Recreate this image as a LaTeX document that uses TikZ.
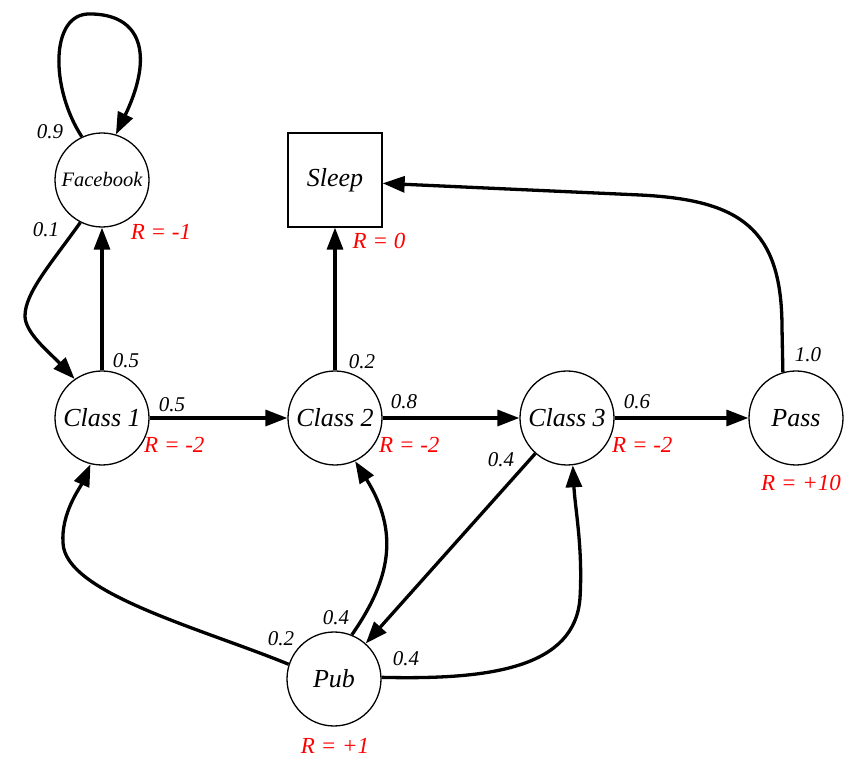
\documentclass[tikz,border=0pt]{standalone}
\usepackage{fontspec}
\setmainfont{Liberation Serif}
\usetikzlibrary{arrows.meta}
\begin{document}
\begin{tikzpicture}[x=1pt,y=1pt,
  state/.style={circle,draw,line width=1.3pt,minimum size=94pt,inner sep=0pt,font=\fontsize{26}{30}\selectfont\itshape},
  termstate/.style={rectangle,draw,line width=1.3pt,minimum size=94pt,inner sep=0pt,font=\fontsize{26}{30}\selectfont\itshape},
  edge/.style={line width=3.3pt,-{Triangle[length=22pt,width=16pt]}},
  prob/.style={font=\fontsize{21}{24}\selectfont\itshape,inner sep=0pt},
  rew/.style={text=red,font=\fontsize{23}{26}\selectfont\itshape,inner sep=0pt}]
\useasboundingbox (0,0) rectangle (856,768);
% states
\node[state,font=\fontsize{20.5}{24}\selectfont\itshape] (fb) at (102,588) {Facebook};
\node[termstate] (sleep) at (335,588) {Sleep};
\node[state] (c1) at (102,350) {Class 1};
\node[state] (c2) at (335,350) {Class 2};
\node[state] (c3) at (567,350) {Class 3};
\node[state] (pass) at (796,350) {Pass};
\node[state] (pub) at (334,89) {Pub};
% rewards
\node[rew] (rfb) at (161,536) {R = -1};
\node[rew] (rsleep) at (379,527) {R = 0};
\node[rew,anchor=west] (rc1) at (144,323) {R = -2};
\node[rew,anchor=west] (rc2) at (379,323) {R = -2};
\node[rew,anchor=west] (rc3) at (612,323) {R = -2};
\node[rew] (rpass) at (801,285) {R = +10};
\node[rew] (rpub) at (335,22) {R = +1};
% edges
\draw[edge] (fb.115) .. controls (50,680) and (50,755) .. (90,754)
  .. controls (140,754) and (155,715) .. (fb.73);
\draw[edge] (fb.243) .. controls (50,503) and (25,475) .. (25,452)
  .. controls (25,435) and (50,415) .. (c1.125);
\draw[edge] (c1) -- (fb);
\draw[edge] (c1) -- (c2);
\draw[edge] (c2) -- (sleep);
\draw[edge] (c2) -- (c3);
\draw[edge] (c3) -- (pass);
\draw[edge] (pass.106) -- (782,440) .. controls (782,540) and (740,568) .. (640,573)
  -- (sleep.-4);
\draw[edge] (c3) -- (pub);
\draw[edge] (pub.162) .. controls (200,140) and (65,175) .. (63,225)
  .. controls (61,255) and (80,280) .. (c1.256);
\draw[edge] (pub.68) .. controls (390,188) and (400,235) .. (c2.295);
\draw[edge] (pub.2) .. controls (490,88) and (575,100) .. (580,170)
  .. controls (583,220) and (575,260) .. (c3.277);
% probabilities
\node[prob] (p1) at (50,636) {0.9};
\node[prob] (p2) at (46,538) {0.1};
\node[prob] (p3) at (126,407) {0.5};
\node[prob] (p4) at (172,363) {0.5};
\node[prob] (p5) at (362,406) {0.2};
\node[prob] (p6) at (404,366) {0.8};
\node[prob] (p7) at (637,366) {0.6};
\node[prob] (p8) at (808,413) {1.0};
\node[prob] (p9) at (501,308) {0.4};
\node[prob] (p10) at (336,150) {0.4};
\node[prob] (p11) at (281,129) {0.2};
\node[prob] (p12) at (406,109) {0.4};
\end{tikzpicture}
\end{document}
